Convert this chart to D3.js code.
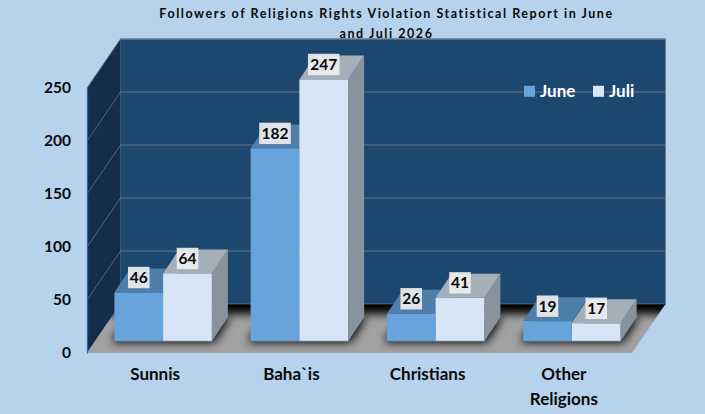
<!DOCTYPE html>
<html>
<head>
<meta charset="utf-8">
<script src="https://cdn.jsdelivr.net/npm/d3@7"></script>
<style>
  html, body { margin: 0; padding: 0; background: #b7d2ed; }
  svg { display: block; }
  text { font-family: Lato, "Open Sans", sans-serif; font-weight: 700; fill: #0a0a0a; }
</style>
</head>
<body>
<div id="chart"></div>
<script>
// chart values
const categories = ["Sunnis", "Baha`is", "Christians", "Other Religions"];
const seriesNames = ["June", "Juli"];
const june = [46, 182, 26, 19];
const juli = [64, 247, 41, 17];
const yTicks = [0, 50, 100, 150, 200, 250];
const titleLines = ["Followers of Religions Rights Violation Statistical Report in June", "and Juli 2026"];

const width = 705, height = 414;

// front plane of the 3d box, and how far the back wall is pushed
const wall = {dx: 33.5, dy: -49};
const barShift = {dx: 8, dy: -11.7};   // bars sit a little inside the floor
const barDepth = {dx: 16, dy: -24};

const colors = {
    bg: "#b7d2ed",
    back: "#1c4870",
    side: "#132e4b",
    grid: "#68727e",
    june: {front: "#68a3dc", top: "#4f7ea8"},
    juli: {front: "#d7e6f6", top: "#a4afba", side: "#89939d"}
};

const y = d3.scaleLinear().domain([0, 250]).range([353, 88]);
const x = d3.scaleBand().domain(categories).range([87, 632]);
const xBar = d3.scaleBand().domain(seriesNames).range([0, 97.5]);

const svg = d3.select("#chart").append("svg")
    .attr("width", width)
    .attr("height", height);

const poly = pts => pts.map(p => p.join(",")).join(" ");
const x0 = x.range()[0], x1 = x.range()[1];
const yTop = y(250), yBase = y(0);

// defs: floor gradient, shadow blur, clip
const defs = svg.append("defs");
const floorPts = [[x0, yBase], [x1, yBase], [x1 + wall.dx, yBase + wall.dy], [x0 + wall.dx, yBase + wall.dy]];
defs.append("clipPath").attr("id", "floorClip")
    .append("polygon").attr("points", poly(floorPts));
defs.append("filter").attr("id", "blur")
    .attr("x", "-30%").attr("y", "-50%").attr("width", "160%").attr("height", "200%")
    .append("feGaussianBlur").attr("stdDeviation", 5);

// back wall
svg.append("rect")
    .attr("x", x0 + wall.dx).attr("y", yTop + wall.dy)
    .attr("width", x1 - x0).attr("height", yBase - yTop)
    .attr("fill", colors.back)
    .attr("stroke", "#6c7f92").attr("stroke-width", 1);

// side wall
svg.append("polygon")
    .attr("points", poly([[x0, yBase], [x0 + wall.dx, yBase + wall.dy], [x0 + wall.dx, yTop + wall.dy], [x0, yTop]]))
    .attr("fill", colors.side);

// gridlines, back wall then side wall
yTicks.filter(d => d > 0).forEach(d => {
    svg.append("line")
        .attr("x1", x0 + wall.dx).attr("x2", x1 + wall.dx)
        .attr("y1", y(d) + wall.dy).attr("y2", y(d) + wall.dy)
        .attr("stroke", colors.grid).attr("stroke-width", 1.2);
    svg.append("line")
        .attr("x1", x0).attr("x2", x0 + wall.dx)
        .attr("y1", y(d)).attr("y2", y(d) + wall.dy)
        .attr("stroke", colors.grid).attr("stroke-width", 0.8);
});

// floor with blurred shadow under the bars
svg.append("polygon").attr("points", poly(floorPts)).attr("fill", "#a2a2a2");
const shadow = svg.append("g").attr("clip-path", "url(#floorClip)");
shadow.append("rect")
    .attr("x", x0 - 20).attr("y", yBase + wall.dy - 14)
    .attr("width", x1 - x0 + 80).attr("height", 24)
    .attr("fill", "#000").attr("filter", "url(#blur)");
categories.forEach(c => {
    const left = x(c) + x.bandwidth() / 2 - 48.75 + barShift.dx;
    const base = yBase + barShift.dy;
    shadow.append("polygon")
        .attr("points", poly([[left - 3, base + 1], [left + 100, base + 1],
            [left + 100 + barDepth.dx, base + barDepth.dy], [left - 3 + barDepth.dx, base + barDepth.dy]]))
        .attr("fill", "#000")
        .attr("filter", "url(#blur)");
});
svg.append("line")
    .attr("x1", x0 + wall.dx).attr("x2", x1 + wall.dx)
    .attr("y1", yBase + wall.dy).attr("y2", yBase + wall.dy)
    .attr("stroke", "#3a4a58").attr("stroke-width", 1);

// y axis
const yAxis = d3.axisLeft(y).tickValues(yTicks).tickSize(0).tickPadding(16);
const axisG = svg.append("g").attr("transform", `translate(${x0},0)`).call(yAxis);
axisG.select(".domain").attr("stroke", "#2f62b5").attr("stroke-width", 1.2);
axisG.selectAll("text").attr("font-size", 15.5).style("font-family", "Lato").attr("fill", "#0a0a0a");

// bars
const bars = [];
categories.forEach((c, i) => {
    bars.push({cat: c, series: "June", value: june[i], col: colors.june});
    bars.push({cat: c, series: "Juli", value: juli[i], col: colors.juli});
});

const barG = svg.selectAll(".bar").data(bars).enter().append("g").attr("class", "bar");
const barX = d => x(d.cat) + x.bandwidth() / 2 - 48.75 + xBar(d.series) + barShift.dx;
const barTop = d => y(d.value) + barShift.dy;
const barBase = yBase + barShift.dy;
const bw = xBar.bandwidth();

// side face
barG.append("polygon")
    .attr("points", d => poly([[barX(d) + bw, barBase], [barX(d) + bw + barDepth.dx, barBase + barDepth.dy],
        [barX(d) + bw + barDepth.dx, barTop(d) + barDepth.dy], [barX(d) + bw, barTop(d)]]))
    .attr("fill", d => d.col.side || d.col.top);
// top face
barG.append("polygon")
    .attr("points", d => poly([[barX(d), barTop(d)], [barX(d) + bw, barTop(d)],
        [barX(d) + bw + barDepth.dx, barTop(d) + barDepth.dy], [barX(d) + barDepth.dx, barTop(d) + barDepth.dy]]))
    .attr("fill", d => d.col.top);
// front face
barG.append("rect")
    .attr("x", barX).attr("y", barTop)
    .attr("width", bw).attr("height", d => barBase - barTop(d))
    .attr("fill", d => d.col.front);
barG.append("line")
    .attr("x1", barX).attr("x2", d => barX(d) + bw)
    .attr("y1", barBase).attr("y2", barBase)
    .attr("stroke", "#5a6b7c").attr("stroke-width", 1);

// value labels
const labels = svg.selectAll(".value").data(bars).enter().append("g").attr("class", "value")
    .attr("transform", d => `translate(${barX(d) + bw / 2},${barTop(d) - 15})`);
labels.append("rect")
    .attr("x", d => d.value >= 100 ? -15.8 : -10.8).attr("y", -10.7)
    .attr("width", d => d.value >= 100 ? 31.6 : 21.6).attr("height", 21.4)
    .attr("fill", "#f0f0f0").attr("fill-opacity", 0.9);
labels.append("text")
    .attr("text-anchor", "middle").attr("y", 5.4)
    .attr("font-size", 15.5)
    .text(d => d.value);

// category labels, the long one wraps
const catG = svg.selectAll(".cat").data(categories).enter().append("text")
    .attr("class", "cat")
    .attr("text-anchor", "middle")
    .attr("font-size", 17);
catG.selectAll("tspan").data(d => d.split(" ")).enter().append("tspan")
    .attr("x", function () { const c = d3.select(this.parentNode).datum(); return x(c) + x.bandwidth() / 2; })
    .attr("y", (d, i) => 380 + i * 25)
    .text(d => d);

// legend
const legendX = [524, 593];
const legendCol = [colors.june.front, colors.juli.front];
seriesNames.forEach((s, i) => {
    svg.append("rect")
        .attr("x", legendX[i]).attr("y", 85.8)
        .attr("width", 11).attr("height", 11)
        .attr("fill", legendCol[i]);
    svg.append("text")
        .attr("x", legendX[i] + 16).attr("y", 97)
        .attr("font-size", 17)
        .style("fill", "#fff")
        .text(s);
});

// title
svg.selectAll(".title").data(titleLines).enter().append("text")
    .attr("class", "title")
    .attr("x", 386.5)
    .attr("y", (d, i) => 18 + i * 20)
    .attr("text-anchor", "middle")
    .attr("font-size", 12.5)
    .attr("letter-spacing", 1.55)
    .text(d => d);
</script>
</body>
</html>
